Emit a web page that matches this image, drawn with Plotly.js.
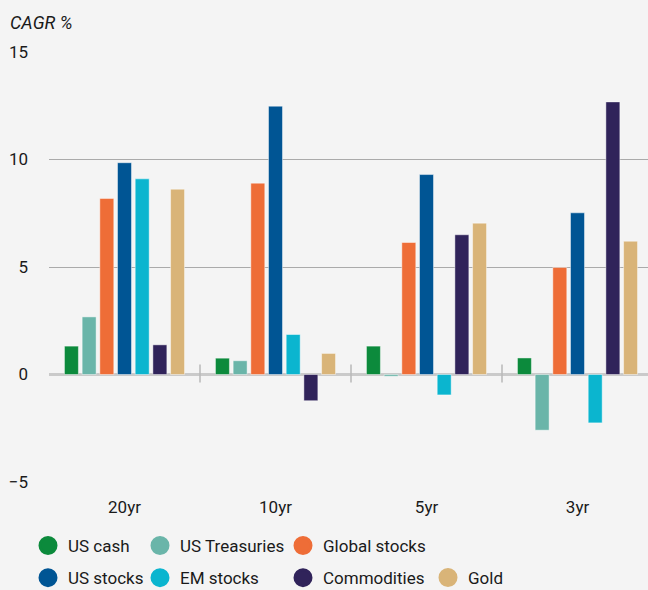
<!DOCTYPE html>
<html>
<head>
<meta charset="utf-8">
<script src="https://cdn.plot.ly/plotly-3.0.1.min.js"></script>
<style>html,body{margin:0;padding:0;background:#f4f4f4;}#chart{width:648px;height:590px;}</style>
</head>
<body>
<div id="chart"></div>
<script>
const categories = ["20yr", "10yr", "5yr", "3yr"];
const seriesNames = ["US cash", "US Treasuries", "Global stocks", "US stocks", "EM stocks", "Commodities", "Gold"];
const usCash = [1.32, 0.76, 1.32, 0.77];
const usTreasuries = [2.68, 0.64, -0.08, -2.59];
const globalStocks = [8.19, 8.90, 6.14, 4.98];
const usStocks = [9.85, 12.48, 9.30, 7.52];
const emStocks = [9.10, 1.86, -0.95, -2.25];
const commodities = [1.38, -1.22, 6.50, 12.68];
const gold = [8.62, 0.98, 7.04, 6.20];
const yTicks = [-5, 0, 5, 10, 15];
const yTickLabels = ["\u22125", "0", "5", "10", "15"];

const seriesValues = [usCash, usTreasuries, globalStocks, usStocks, emStocks, commodities, gold];
const colors = ["#0c8a3c", "#6ab5a9", "#ee6d37", "#005594", "#0bb5cf", "#30235a", "#d9b478"];
// legend column for each series (column layout of the original legend)
const legendIds = ["legend", "legend2", "legend3", "legend", "legend2", "legend3", "legend4"];

const FONT = "Roboto, 'Noto Sans', sans-serif";
const traces = [];
seriesNames.forEach((name, i) => {
  traces.push({
    type: "bar",
    name: name,
    x: categories,
    y: seriesValues[i],
    marker: {color: colors[i], line: {color: "rgba(255,255,255,0.45)", width: 1}},
    showlegend: false,
    hoverinfo: "x+y+name"
  });
});
seriesNames.forEach((name, i) => {
  traces.push({
    type: "scatter",
    mode: "markers",
    name: name,
    x: [null],
    y: [null],
    marker: {color: colors[i], size: 16, symbol: "circle", line: {color: colors[i], width: 3}},
    legend: legendIds[i],
    legendgroup: "g" + i,
    showlegend: true
  });
});

// separator marks between categories, on the zero line
const shapes = categories.slice(1).map((c, i) => ({
  type: "line", xref: "x", yref: "y",
  x0: i + 0.5, x1: i + 0.5, y0: -0.37, y1: 0.47,
  line: {color: "#b8b8b8", width: 1.5}
}));

const legendBase = {
  orientation: "v", yref: "container", y: 1 - 528 / 590, yanchor: "top", xanchor: "left",
  font: {family: FONT, size: 17, color: "#1a1a1a"}, bgcolor: "rgba(0,0,0,0)",
  traceorder: "grouped", tracegroupgap: 7, itemclick: false, itemdoubleclick: false
};

const layout = {
  width: 648, height: 590,
  paper_bgcolor: "#f4f4f4", plot_bgcolor: "#f4f4f4",
  margin: {l: 49, r: 0, t: 52, b: 108},
  font: {family: FONT, size: 17, color: "#1a1a1a"},
  title: {text: "CAGR %", xref: "container", x: 10 / 648, xanchor: "left", yref: "container", y: 1 - 23 / 590, yanchor: "middle",
          font: {family: FONT, size: 18, style: "italic", color: "#1a1a1a"}},
  barmode: "group", bargap: 0.18, bargroupgap: 0.21,
  xaxis: {type: "category", range: [-0.5, (648 - 49) / 151 - 0.5], showgrid: false, zeroline: false, showline: false,
          ticks: "", ticklabelstandoff: 13, tickfont: {family: FONT, size: 17, color: "#1a1a1a"}, fixedrange: true},
  yaxis: {range: [-5, 15], tickvals: yTicks, ticktext: yTickLabels, showgrid: true, gridcolor: "#aaaaaa", gridwidth: 1,
          zeroline: true, zerolinecolor: "#cacaca", zerolinewidth: 2.5, showline: false, ticks: "",
          ticklabelstandoff: 20, tickfont: {family: FONT, size: 17, color: "#1a1a1a"}, fixedrange: true},
  shapes: shapes,
  showlegend: true,
  legend: Object.assign({}, legendBase, {x: (28 - 49) / 599}),
  legend2: Object.assign({}, legendBase, {x: (140 - 49) / 599}),
  legend3: Object.assign({}, legendBase, {x: (283 - 49) / 599}),
  legend4: Object.assign({}, legendBase, {x: (428 - 49) / 599, y: 1 - (528 + 32) / 590})
};

Plotly.newPlot("chart", traces, layout, {displayModeBar: false, staticPlot: true});
</script>
</body>
</html>
